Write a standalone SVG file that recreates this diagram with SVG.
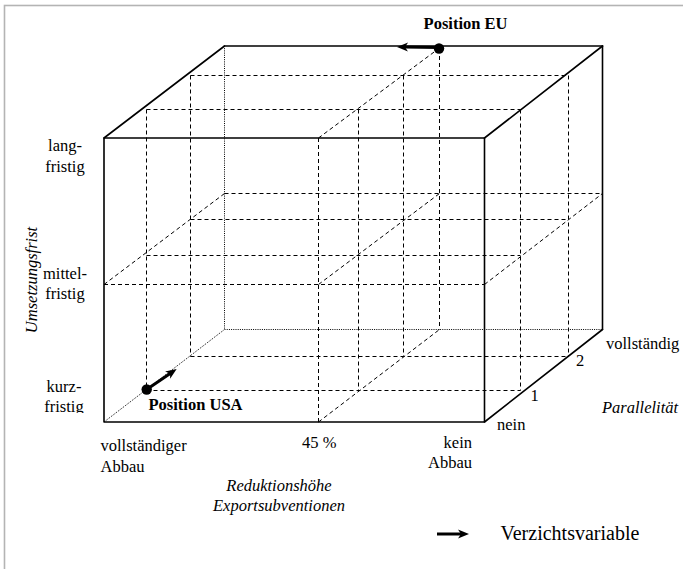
<svg xmlns="http://www.w3.org/2000/svg" width="683" height="569" viewBox="0 0 683 569">
<style>
.d{stroke:#000;stroke-width:1;stroke-dasharray:4 3;fill:none}
.o{stroke:#000;stroke-width:1;stroke-dasharray:1 1.2;fill:none}
.s{stroke:#000;stroke-width:1.6;fill:none;stroke-linecap:round;stroke-linejoin:round}
.a{stroke:#000;stroke-width:3;fill:none}
text{font-family:"Liberation Serif","Times New Roman",serif;font-size:16.5px;fill:#000}
.b{font-weight:bold}
.i{font-style:italic}
</style>
<defs>
<marker id="ah" markerUnits="userSpaceOnUse" markerWidth="14" markerHeight="12" viewBox="0 -6 14 12" refX="4" refY="0" orient="auto" overflow="visible">
<path d="M0,-4.5 L11,0 L0,4.5 L3,0 z" fill="#000"/>
</marker>
<clipPath id="cl"><rect x="0" y="370" width="100" height="43"/></clipPath>
</defs>
<rect x="4.5" y="5.5" width="700" height="600" fill="#fff" stroke="#b4b4b4" stroke-width="1.6"/>
<g id="connectors">
<g id="grid-dashed">
<line class="d" x1="146.5" y1="109.5" x2="520.5" y2="109.5"/>
<line class="d" x1="190.5" y1="75.5" x2="568.5" y2="75.5"/>
<line class="d" x1="104" y1="284.5" x2="484.5" y2="284.5"/>
<line class="d" x1="146.5" y1="255.5" x2="520.5" y2="255.5"/>
<line class="d" x1="190.5" y1="219.5" x2="568.5" y2="219.5"/>
<line class="d" x1="224.5" y1="193.5" x2="602.5" y2="193.5"/>
<line class="d" x1="146.5" y1="390.5" x2="520.5" y2="390.5"/>
<line class="d" x1="190.5" y1="356.5" x2="568.5" y2="356.5"/>
<line class="d" x1="146.5" y1="109.5" x2="146.5" y2="390.5"/>
<line class="d" x1="190.5" y1="75.5" x2="190.5" y2="356.5"/>
<line class="d" x1="318.5" y1="138" x2="318.5" y2="422"/>
<line class="d" x1="358.5" y1="109.5" x2="358.5" y2="390.5"/>
<line class="d" x1="403.5" y1="75.5" x2="403.5" y2="356.5"/>
<line class="d" x1="439.5" y1="49" x2="439.5" y2="329.5"/>
<line class="d" x1="520.5" y1="109.5" x2="520.5" y2="390.5"/>
<line class="d" x1="568.5" y1="75.5" x2="568.5" y2="356.5"/>
<line class="d" x1="104" y1="284.5" x2="224.5" y2="193.5"/>
<line class="d" x1="318.5" y1="138" x2="439.5" y2="48"/>
<line class="d" x1="318.5" y1="284.5" x2="439.5" y2="193.5"/>
<line class="d" x1="318.5" y1="422" x2="439.5" y2="329.5"/>
<line class="d" x1="484.5" y1="284.5" x2="602.5" y2="193.5"/>
</g>
<g id="hidden-edges">
<line class="o" x1="224.5" y1="329.5" x2="602.5" y2="329.5"/>
<line class="o" x1="224.5" y1="46" x2="224.5" y2="329.5"/>
<line class="o" x1="104" y1="422" x2="224.5" y2="329.5"/>
</g>
<g id="cube-edges">
<rect class="s" x="104" y="138" width="380.5" height="284"/>
<line class="s" x1="104" y1="138" x2="224.5" y2="46"/>
<line class="s" x1="224.5" y1="46" x2="602.5" y2="46"/>
<line class="s" x1="602.5" y1="46" x2="602.5" y2="329.5"/>
<line class="s" x1="484.5" y1="138" x2="602.5" y2="46"/>
<line class="s" x1="484.5" y1="422" x2="602.5" y2="329.5"/>
</g>
<g id="arrows">
<line class="a" x1="439" y1="47.5" x2="404" y2="47" marker-end="url(#ah)"/>
<line class="a" x1="147" y1="389.3" x2="170.9" y2="372.9" marker-end="url(#ah)"/>
</g>
</g>
<g id="position-eu">
<circle cx="439" cy="48.5" r="5.2" fill="#000"/>
<text class="b" x="465.5" y="29" text-anchor="middle">Position EU</text>
</g>
<g id="position-usa">
<circle cx="146.7" cy="389.5" r="5.2" fill="#000"/>
<text class="b" x="148.5" y="410">Position USA</text>
</g>
<g id="axis-umsetzungsfrist">
<text x="65" y="150.5" text-anchor="middle">lang-</text>
<text x="65" y="171.5" text-anchor="middle">fristig</text>
<text x="65" y="279" text-anchor="middle">mittel-</text>
<text x="65" y="298.5" text-anchor="middle">fristig</text>
<text x="64" y="391.5" text-anchor="middle">kurz-</text>
<text x="64" y="411.5" text-anchor="middle" clip-path="url(#cl)">fristig</text>
<text class="i" transform="translate(37,280) rotate(-90)" text-anchor="middle">Umsetzungsfrist</text>
</g>
<g id="axis-reduktion">
<text x="100.5" y="450.5">vollständiger</text>
<text x="100.5" y="471.5">Abbau</text>
<text x="302" y="447.5">45 %</text>
<text x="472" y="448" text-anchor="end">kein</text>
<text x="472" y="467.5" text-anchor="end">Abbau</text>
<text class="i" x="279" y="490.5" text-anchor="middle">Reduktionshöhe</text>
<text class="i" x="279" y="511" text-anchor="middle">Exportsubventionen</text>
</g>
<g id="axis-parallelitaet">
<text x="497" y="429.5">nein</text>
<text x="534.5" y="400.5" text-anchor="middle">1</text>
<text x="580" y="366" text-anchor="middle">2</text>
<text x="606" y="348.5">vollständig</text>
<text class="i" x="602" y="412.5">Parallelität</text>
</g>
<g id="legend">
<line class="a" x1="437" y1="534" x2="462" y2="534" marker-end="url(#ah)"/>
<text x="500.5" y="540" style="font-size:20px">Verzichtsvariable</text>
</g>
</svg>
